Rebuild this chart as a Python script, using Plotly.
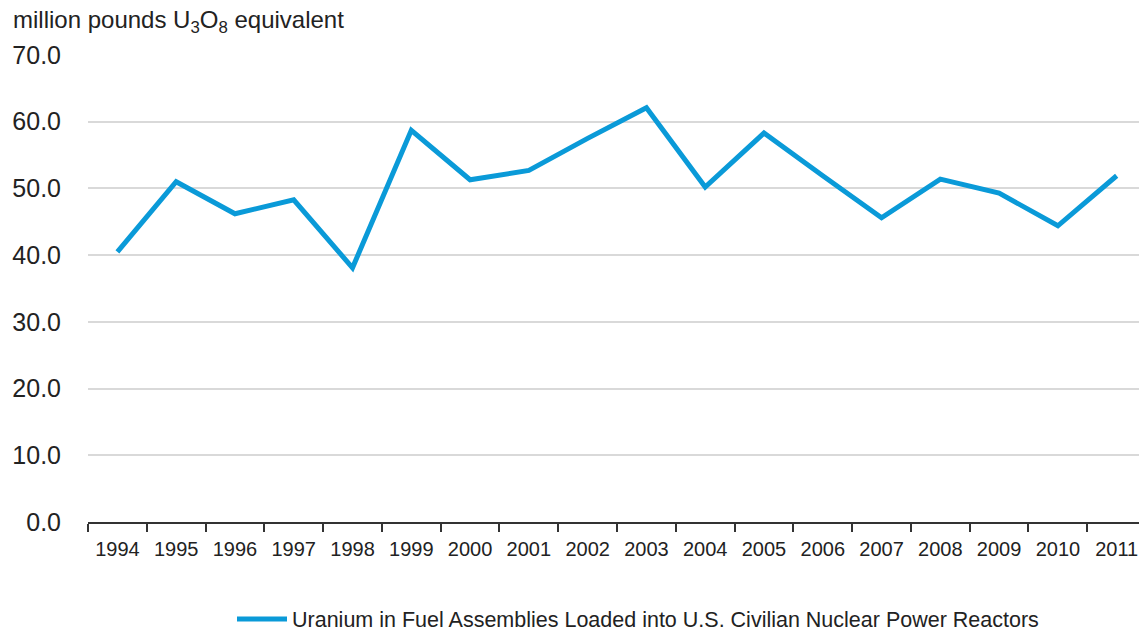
import plotly.graph_objects as go

years = [str(y) for y in range(1994, 2012)]
uranium = [40.5, 51.0, 46.2, 48.3, 38.1, 58.7, 51.3, 52.7, 57.5, 62.1,
           50.2, 58.3, 51.9, 45.6, 51.4, 49.3, 44.4, 51.9]
y_ticks = [0, 10, 20, 30, 40, 50, 60, 70]
series_name = "Uranium in Fuel Assemblies Loaded into U.S. Civilian Nuclear Power Reactors"

W, H = 1139, 634
L, R, T, B = 88, 0, 55, 112

fig = go.Figure()
fig.add_trace(go.Scatter(
    x=years, y=uranium, mode="lines", name=series_name,
    line=dict(color="#0a9ad8", width=5),
))

fig.update_layout(
    width=W, height=H,
    margin=dict(l=L, r=R, t=T, b=B, autoexpand=False),
    paper_bgcolor="white", plot_bgcolor="white",
    font=dict(family="Liberation Sans, Arial, sans-serif", color="#222222"),
    title=dict(
        text="million pounds U<sub>3</sub>O<sub>8</sub> equivalent",
        x=13 / W, xanchor="left", xref="container",
        y=1 - 20 / H, yanchor="middle", yref="container",
        font=dict(size=24, color="#222222"),
    ),
    showlegend=True,
    legend=dict(
        orientation="h", xref="container", yref="container",
        x=638 / W, xanchor="center", y=1 - 619 / H, yanchor="middle",
        font=dict(size=21.5, color="#222222"),
        itemwidth=50,
    ),
    xaxis=dict(
        type="category",
        range=[-0.5, 17.38],
        showgrid=False,
        showline=True, linecolor="#333333", linewidth=2,
        ticks="outside", ticklen=8, tickwidth=2, tickcolor="#333333",
        tickson="boundaries",
        ticklabelstandoff=8,
        tickfont=dict(size=20, color="#222222"),
        zeroline=False, automargin=False,
    ),
    yaxis=dict(
        range=[0, 70],
        tickvals=y_ticks,
        ticktext=[f"{v:.1f}" for v in y_ticks],
        showgrid=True, gridcolor="#d9d9d9", gridwidth=2,
        zeroline=False, showline=False,
        ticks="", ticklabelstandoff=26,
        tickfont=dict(size=25, color="#222222"),
        automargin=False,
    ),
)

fig.write_html(
    "out.html",
    config={"displayModeBar": False},
    post_script="document.body.style.margin='0';document.body.style.overflow='hidden';",
)
